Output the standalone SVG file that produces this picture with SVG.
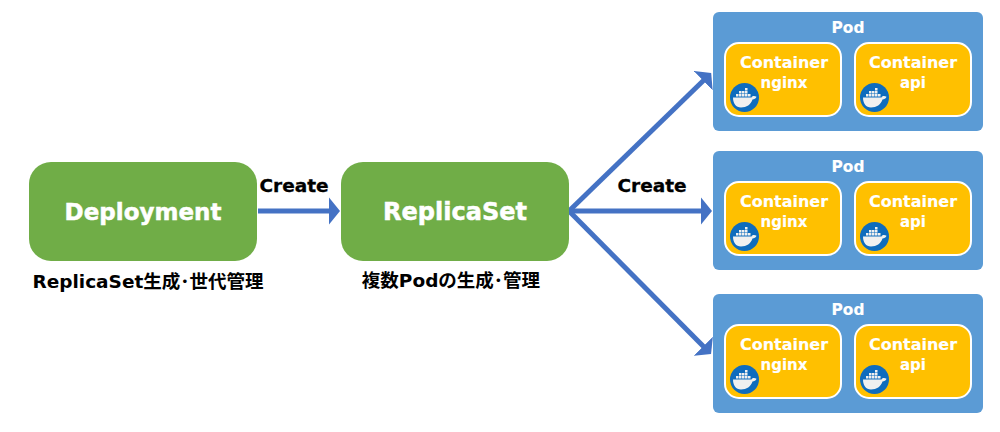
<svg xmlns="http://www.w3.org/2000/svg" xmlns:xlink="http://www.w3.org/1999/xlink" width="1000" height="432" viewBox="0 0 1000 432">
<style>
text{font-family:"DejaVu Sans","Noto Sans CJK JP",sans-serif;font-weight:700;text-anchor:middle}
.main{fill:#fff;stroke:#fff;stroke-width:.5;font-size:23px}
.rs{font-size:24px}
.lbl{fill:#000;stroke:#000;stroke-width:.3;font-size:18.500px}
.cap{fill:#000;font-size:18.500px}
.pod{fill:#5b9bd5}
.box{fill:#70ad47}
.ctr{fill:#ffc000;stroke:#fff;stroke-width:2}
.w{fill:#fff;stroke:#fff;stroke-width:.15;font-size:16px}
.w2{fill:#fff;stroke:#fff;stroke-width:.15;font-size:15px}
.wp{fill:#fff;stroke:#fff;stroke-width:.15;font-size:15.400px}
.conn{fill:none;stroke:#4472c4;stroke-width:5}
</style>
<defs>
<marker id="arrow" markerUnits="userSpaceOnUse" markerWidth="12" markerHeight="28" refX="1" refY="14" orient="auto">
<path d="M0 .5L11 14L0 27.500Z" fill="#4472c4"/>
</marker>
<symbol id="docker" viewBox="0 0 29 29" width="29" height="29" overflow="visible">
<circle cx="14.500" cy="14.500" r="14.500" fill="#0f6cbd"/>
<path d="M3 14.500H21.500C22.500 12.800 24.500 12.800 26.500 13.800C26 15.500 24 16.500 22.500 16.500C21 21.500 16.500 24.500 11 24.500C6 24.500 3 20.500 3 14.500Z" fill="#f0f0f0"/>
<path d="M6 11h2.500v2.500H6zM9 11h2.500v2.500H9zM12 11h2.500v2.500H12zM15 11h2.500v2.500H15zM18 11h2.500v2.500H18zM9 8h2.500v2.500H9zM12 8h2.500v2.500H12zM15 8h2.500v2.500H15zM15 5h2.500v2.500H15z" fill="#f0f0f0"/>
</symbol>
</defs>
<g id="connectors">
<line class="conn" x1="258" y1="211" x2="330" y2="211" marker-end="url(#arrow)"/>
<line class="conn" x1="569" y1="211" x2="704" y2="80" marker-end="url(#arrow)"/>
<line class="conn" x1="569" y1="211" x2="702" y2="211" marker-end="url(#arrow)"/>
<line class="conn" x1="569" y1="211" x2="704" y2="347" marker-end="url(#arrow)"/>
</g>
<g id="deployment">
<rect class="box" x="29" y="162" width="228" height="99" rx="22"/>
<text class="main" x="143" y="220">Deployment</text>
<text class="cap" x="148" y="288">ReplicaSet生成･世代管理</text>
</g>
<g id="replicaset">
<rect class="box" x="341" y="162" width="228" height="99" rx="22"/>
<text class="main rs" x="455" y="220">ReplicaSet</text>
<text class="cap" x="451" y="287">複数Podの生成･管理</text>
</g>
<text class="lbl" x="294" y="192">Create</text>
<text class="lbl" x="652" y="192">Create</text>
<g id="pod1">
<rect class="pod" x="713" y="12" width="270" height="119" rx="6"/>
<text class="wp" x="848" y="33">Pod</text>
<g id="pod1-nginx"><rect class="ctr" x="725" y="43" width="116" height="73" rx="14"/><text class="w" x="784" y="68">Container</text><text class="w2" x="784" y="88">nginx</text><use xlink:href="#docker" href="#docker" x="730" y="83"/></g>
<g id="pod1-api"><rect class="ctr" x="855" y="43" width="116" height="73" rx="14"/><text class="w" x="913" y="68">Container</text><text class="w2" x="913" y="88">api</text><use xlink:href="#docker" href="#docker" x="860" y="83"/></g>
</g>
<g id="pod2">
<rect class="pod" x="713" y="151" width="270" height="119" rx="6"/>
<text class="wp" x="848" y="172">Pod</text>
<g id="pod2-nginx"><rect class="ctr" x="725" y="182" width="116" height="73" rx="14"/><text class="w" x="784" y="207">Container</text><text class="w2" x="784" y="227">nginx</text><use xlink:href="#docker" href="#docker" x="730" y="222"/></g>
<g id="pod2-api"><rect class="ctr" x="855" y="182" width="116" height="73" rx="14"/><text class="w" x="913" y="207">Container</text><text class="w2" x="913" y="227">api</text><use xlink:href="#docker" href="#docker" x="860" y="222"/></g>
</g>
<g id="pod3">
<rect class="pod" x="713" y="294" width="270" height="119" rx="6"/>
<text class="wp" x="848" y="315">Pod</text>
<g id="pod3-nginx"><rect class="ctr" x="725" y="325" width="116" height="73" rx="14"/><text class="w" x="784" y="350">Container</text><text class="w2" x="784" y="370">nginx</text><use xlink:href="#docker" href="#docker" x="730" y="365"/></g>
<g id="pod3-api"><rect class="ctr" x="855" y="325" width="116" height="73" rx="14"/><text class="w" x="913" y="350">Container</text><text class="w2" x="913" y="370">api</text><use xlink:href="#docker" href="#docker" x="860" y="365"/></g>
</g>
</svg>
